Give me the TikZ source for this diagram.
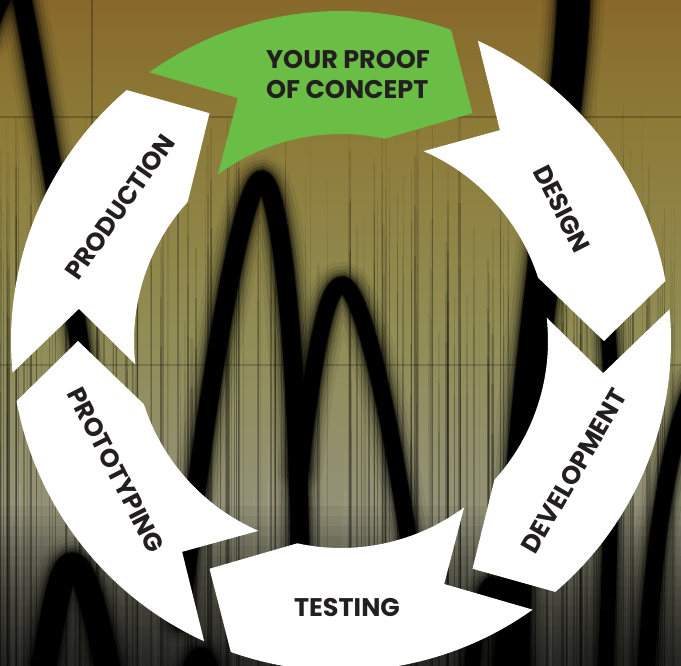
\documentclass[tikz,border=0pt]{standalone}
\usepackage{fontspec}
\newfontfamily\lab{Poppins}
\definecolor{gr}{HTML}{6ABD45}
\definecolor{txt}{HTML}{231F20}
\definecolor{bgA}{HTML}{88692B}
\definecolor{bgB}{HTML}{8D7B38}
\definecolor{bgC}{HTML}{918D55}
\definecolor{bgD}{HTML}{939279}
\definecolor{bgE}{HTML}{66665E}
\newcommand\softline[2]{%
  \foreach \e/\o in {30/0.06,22/0.1,15/0.15,9/0.25,4/0.4,1/0.7,0/1}{\draw[black, line width=#1+\e, draw opacity=\o, line cap=round] #2;}}
\begin{document}
\begin{tikzpicture}[x=1pt,y=1pt,
  seg/.style={draw=none},
  lbl/.style={font=\lab\bfseries\fontsize{25.5}{30}\selectfont, text=txt, inner sep=0pt}]
\useasboundingbox (0,0) rectangle (681,666);
\clip (0,0) rectangle (681,666);
% ---------- background gradient ----------
\shade[top color=bgA, bottom color=bgB] (0,535) rectangle (681,666);
\shade[top color=bgB, bottom color=bgC] (0,335) rectangle (681,536);
\shade[top color=bgC, bottom color=bgD] (0,145) rectangle (681,336);
\shade[top color=bgD, bottom color=bgE] (0,0) rectangle (681,146);
% ---------- texture (screen coordinates, y down) ----------
\begin{scope}[yshift=666, yscale=-1]
  \pgfmathsetseed{11}
  \foreach \i in {1,...,200}{
    \pgfmathsetmacro\xx{rnd*681}
    \pgfmathsetmacro\ww{0.5+rnd*2}
    \pgfmathsetmacro\oo{0.08+rnd*0.3}
    \pgfmathsetmacro\ys{100+rnd*250}
    \draw[black, line width=\ww, draw opacity=\oo*0.3] (\xx,\ys) -- (\xx,\ys+50);
    \draw[black, line width=\ww, draw opacity=\oo*0.65] (\xx,\ys+50) -- (\xx,\ys+100);
    \draw[black, line width=\ww, draw opacity=\oo] (\xx,\ys+100) -- (\xx,666);
  }
  \foreach \i in {1,...,40}{
    \pgfmathsetmacro\xx{rnd*681}
    \pgfmathsetmacro\ww{1+rnd*2.5}
    \pgfmathsetmacro\oo{0.04+rnd*0.07}
    \pgfmathsetmacro\ys{440+rnd*150}
    \draw[white, line width=\ww, draw opacity=\oo*0.5] (\xx,\ys) -- (\xx,\ys+40);
    \draw[white, line width=\ww, draw opacity=\oo] (\xx,\ys+40) -- (\xx,666);
  }
  \draw[black, line width=2, draw opacity=0.22] (0,117) -- (681,117);
  \draw[black, line width=2, draw opacity=0.18] (0,365) -- (681,365);
  \draw[black, line width=2, draw opacity=0.25] (92,0) -- (92,125);
  % black waves
  \softline{8}{(-10,40) .. controls (0,10) and (8,-12) .. (18,-12)}
  \softline{18}{(20,-12) .. controls (40,90) and (68,260) .. (92,430)}
  \softline{18}{(180,620) .. controls (214,330) and (246,178) .. (262,180) .. controls (280,183) and (301,360) .. (300,620)}
  \softline{16}{(300,470) .. controls (318,320) and (330,284) .. (343,285) .. controls (358,287) and (388,380) .. (420,620)}
  \softline{32}{(574,-15) .. controls (570,150) and (524,300) .. (510,690)}
  \softline{14}{(605,300) .. controls (615,380) and (612,500) .. (605,690)}
  \softline{16}{(695,380) .. controls (665,450) and (652,560) .. (645,690)}
  \softline{24}{(40,690) .. controls (55,600) and (62,565) .. (72,565) .. controls (85,565) and (98,620) .. (112,690)}
  \softline{16}{(185,690) .. controls (195,650) and (205,640) .. (215,690)}
  \softline{14}{(470,690) .. controls (480,560) and (500,540) .. (520,690)}
\end{scope}
% bottom darkening
\foreach \t in {0,...,15}{\fill[black, opacity=0.05] (0,0) rectangle (681,160-\t*10);}
% ---------- ring of arrows ----------
\foreach \k/\col in {0/gr,1/white,2/white,3/white,4/white,5/white}{
  \fill[seg, \col, shift={(341,325)}, rotate=-60*\k]
    (125.5:330) arc[start angle=125.5, end angle=70.5, radius=330]
    -- (60:263) -- (77.8:207)
    arc[start angle=77.8, end angle=126.5, radius=207]
    -- (113:264) -- cycle;
}
% ---------- labels ----------
\node[lbl, align=left] (poc) at (348,591) {YOUR PROOF\\OF CONCEPT};
\node[lbl, rotate=-63] (design) at (562,457) {DESIGN};
\node[lbl, rotate=60] (devel) at (574,195) {DEVELOPMENT};
\node[lbl] (testing) at (347,58) {TESTING};
\node[lbl, rotate=-63] (proto) at (116,196) {PROTOTYPING};
\node[lbl, rotate=55] (prod) at (120,459) {PRODUCTION};
\end{tikzpicture}
\end{document}
